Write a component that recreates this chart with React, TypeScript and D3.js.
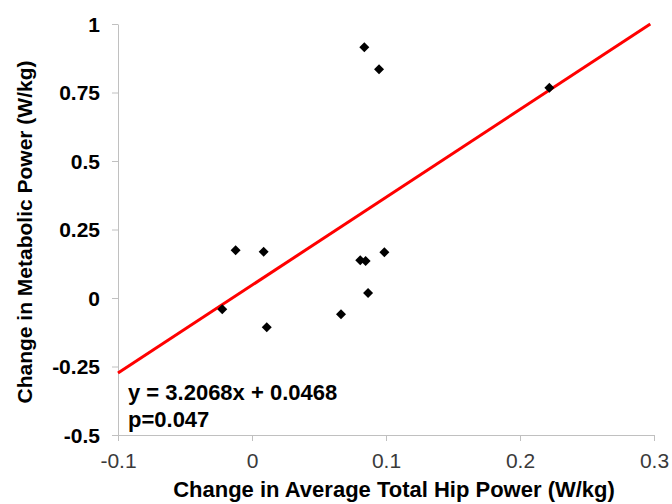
import React, { useRef, useEffect } from 'react';
import * as d3 from 'd3';

// 読み取ったデータ点 (Hip power の変化, Metabolic power の変化)
const hipPower = [0.0838, 0.0948, 0.2219, -0.0122, 0.0087, -0.0222, 0.011, 0.0808, 0.0848, 0.0988, 0.0866, 0.0664];
const metabolicPower = [0.915, 0.835, 0.7675, 0.174, 0.169, -0.041, -0.107, 0.1375, 0.135, 0.167, 0.018, -0.0596];

const xTicks = [-0.1, 0, 0.1, 0.2, 0.3];
const xTickLabels = ['-0.1', '0', '0.1', '0.2', '0.3'];
const yTicks = [-0.5, -0.25, 0, 0.25, 0.5, 0.75, 1];
const yTickLabels = ['-0.5', '-0.25', '0', '0.25', '0.5', '0.75', '1'];

// 回帰直線
const slope = 3.2068;
const intercept = 0.0468;
const equationText = 'y = 3.2068x + 0.0468';
const pText = 'p=0.047';

const xTitle = 'Change in Average Total Hip Power (W/kg)';
const yTitle = 'Change in Metabolic Power (W/kg)';

const W = 672;
const H = 504;
const margin = { top: 24, right: 18, bottom: 69, left: 118 };
const font = '"Liberation Sans", Arial, sans-serif';

export default function App() {
  const svgRef = useRef<SVGSVGElement>(null);

  useEffect(() => {
    const svg = d3.select(svgRef.current);
    svg.selectAll('*').remove();

    const x = d3.scaleLinear().domain([-0.1, 0.3]).range([margin.left, W - margin.right]);
    const y = d3.scaleLinear().domain([-0.5, 1]).range([H - margin.bottom, margin.top]);
    const axisColor = '#c0c0c0';

    // X軸
    const gx = svg.append('g').attr('transform', `translate(0, ${y(-0.5)})`)
      .call(d3.axisBottom(x).tickValues(xTicks).tickSize(6).tickSizeOuter(0)
        .tickFormat((_, i) => xTickLabels[i]));
    gx.select('.domain').attr('stroke', axisColor);
    gx.selectAll('.tick line').attr('stroke', axisColor);
    gx.selectAll('.tick text')
      .attr('dy', 0).attr('y', 33)
      .style('font-family', font).style('font-size', '21px').attr('fill', '#3a3a3a');

    // Y軸
    const gy = svg.append('g').attr('transform', `translate(${x(-0.1)}, 0)`)
      .call(d3.axisLeft(y).tickValues(yTicks).tickSize(6).tickSizeOuter(0)
        .tickFormat((_, i) => yTickLabels[i]));
    gy.select('.domain').attr('stroke', axisColor);
    gy.selectAll('.tick line').attr('stroke', axisColor);
    gy.selectAll('.tick text')
      .attr('x', -18).attr('dy', '0.35em')
      .style('font-family', font).style('font-size', '21px').style('font-weight', 'bold').attr('fill', '#000');

    // 回帰直線 (y=1 でクリップ)
    const xEnd = (1 - intercept) / slope;
    const line = d3.line<number>().x(d => x(d)).y(d => y(slope * d + intercept));
    svg.append('path')
      .datum([-0.1, xEnd])
      .attr('d', line)
      .attr('fill', 'none')
      .attr('stroke', '#ff0000')
      .attr('stroke-width', 3);

    // データ点 (ひし形)
    const diamond = d3.symbol().type(d3.symbolSquare).size(50);
    svg.append('g').selectAll('path')
      .data(hipPower.map((h, i) => ({ h, m: metabolicPower[i] })))
      .enter()
      .append('path')
      .attr('d', diamond)
      .attr('transform', d => `translate(${x(d.h)}, ${y(d.m)}) rotate(45)`)
      .attr('fill', '#000');

    // 式と p 値
    svg.append('text')
      .attr('x', 128).attr('y', 400)
      .style('font-family', font).style('font-size', '22px').style('font-weight', 'bold')
      .text(equationText);
    svg.append('text')
      .attr('x', 128).attr('y', 427)
      .style('font-family', font).style('font-size', '22px').style('font-weight', 'bold')
      .text(pText);

    // 軸タイトル
    svg.append('text')
      .attr('x', 394).attr('y', 497)
      .attr('text-anchor', 'middle')
      .style('font-family', font).style('font-size', '22px').style('font-weight', 'bold')
      .text(xTitle);
    svg.append('text')
      .attr('transform', `translate(32, 232) rotate(-90)`)
      .attr('text-anchor', 'middle')
      .style('font-family', font).style('font-size', '21px').style('font-weight', 'bold')
      .text(yTitle);
  }, []);

  return (
    <svg ref={svgRef} width={W} height={H}
      style={{ position: 'absolute', left: 0, top: 0, background: '#fff' }} />
  );
}
